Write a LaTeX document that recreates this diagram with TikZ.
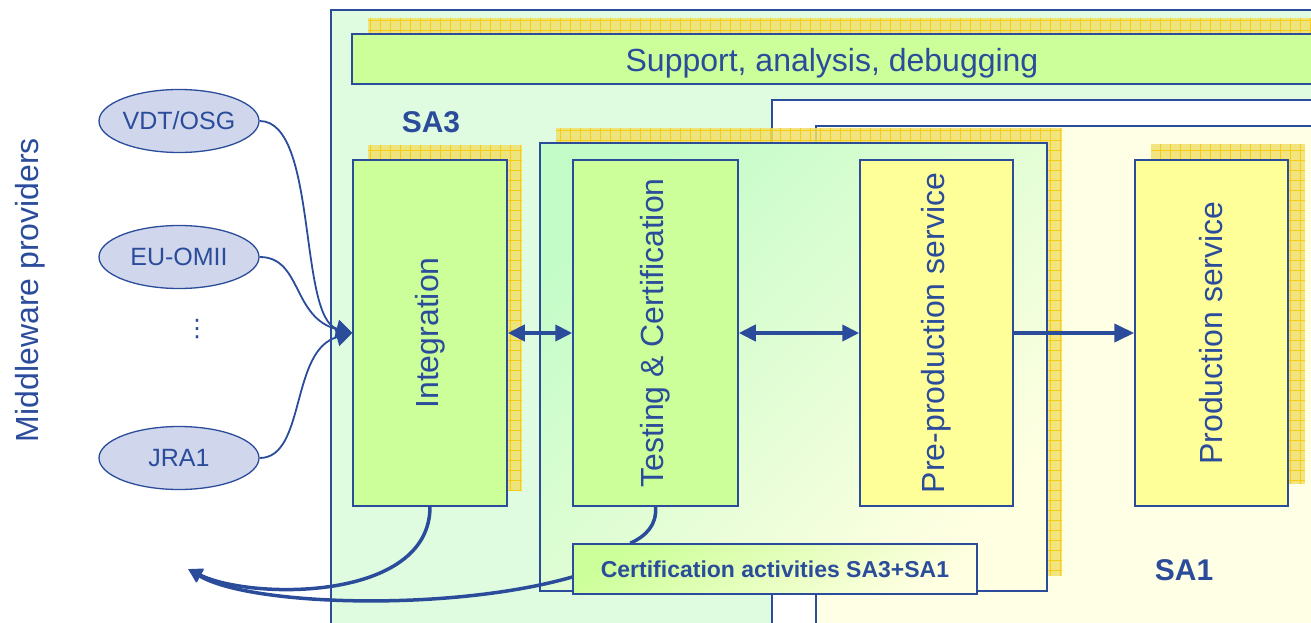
\documentclass[tikz,border=0pt]{standalone}
\usepackage{fontspec}
\setmainfont{Liberation Sans}
\newfontfamily\dejavu{DejaVu Sans}
\usetikzlibrary{shapes.geometric,arrows.meta,calc}
\definecolor{dblue}{RGB}{43,76,155}
\definecolor{sathree}{RGB}{224,252,224}
\definecolor{lgreen}{RGB}{204,255,153}
\definecolor{lyellow}{RGB}{255,255,153}
\definecolor{saone}{RGB}{255,255,229}
\definecolor{shfill}{RGB}{240,224,110}
\definecolor{shline}{RGB}{246,204,20}
\definecolor{ellfill}{RGB}{208,215,236}
\definecolor{contgreen}{RGB}{196,252,200}
\definecolor{contyellow}{RGB}{255,255,226}
\newcommand\gridshadow[2]{%
  \fill[shfill, fill opacity=0.85] #1 rectangle #2;
  \draw[shline, line width=0.6pt, step=10pt] #1 grid #2;}
\begin{document}
\begin{tikzpicture}[x=1pt,y=-1pt,
  border/.style={draw=dblue, line width=1.5pt},
  box/.style={border, inner sep=0pt, minimum height=346pt},
  txt/.style={text=dblue, font=\fontsize{32}{38}\selectfont},
  btxt/.style={text=dblue, font=\bfseries\fontsize{30}{34}\selectfont},
  prov/.style={ellipse, border, line width=1.3pt, fill=ellfill, inner sep=0pt,
    minimum width=160pt, minimum height=63pt, text=dblue,
    font=\fontsize{25}{30}\selectfont},
  feed/.style={dblue, line width=1.8pt, -{Triangle[length=16pt,width=18pt]}},
  flow/.style={dblue, line width=4pt}]
\useasboundingbox (0,0) rectangle (1311,623);
% SA3 background
\draw[border, fill=sathree] (331,10) rectangle (1340,650);
% support bar
\gridshadow{(368,18)}{(1340,50)}
\node[border, fill=lgreen, minimum width=988pt, minimum height=50pt, inner sep=0pt,
  label={[txt, xshift=-14pt, yshift=-4pt]center:Support, analysis, debugging}]
  (bar) at (846,59) {};
% SA1 background
\draw[border, fill=white] (772,100) rectangle (1340,650);
\draw[border, fill=saone] (816,126) rectangle (1340,650);
% container of testing
\gridshadow{(556,128)}{(1062,576)}
\node[border, inner sep=0pt, minimum width=507pt, minimum height=448pt,
  top color=contgreen, bottom color=contyellow, shading angle=45]
  (cont) at (793.5,367) {};
% shadows
\gridshadow{(368,145)}{(522,491)}
\gridshadow{(1151,144)}{(1305,484)}
% boxes
\node[box, fill=lgreen, minimum width=154pt,
  label={[txt,rotate=90]center:Integration}] (integ) at (430,333) {};
\node[box, fill=lgreen, minimum width=165pt,
  label={[txt,rotate=90]center:Testing \& Certification}] (test) at (655.5,333) {};
\node[box, fill=lyellow, minimum width=153pt,
  label={[txt,rotate=90]center:Pre-production service}] (pre) at (936.5,333) {};
\node[box, fill=lyellow, minimum width=153pt,
  label={[txt,rotate=90]center:Production service}] (prod) at (1211.5,333) {};
% labels
\node[btxt] (sa3) at (431,122) {SA3};
\node[btxt] (sa1) at (1184,570) {SA1};
\node[txt, rotate=90] (mw) at (30,290) {Middleware providers};
% providers
\node[prov] (vdt) at (179,121) {VDT/OSG};
\node[prov] (eu) at (179,257) {EU-OMII};
\node[prov] (jra) at (179,458) {JRA1};
\node[text=dblue, font=\dejavu\fontsize{24}{28}\selectfont] (dots) at (197,329) {⋮};
\draw[feed] (vdt.east) .. controls (318,121) and (298,318) .. (integ.west);
\draw[feed] (eu.east) .. controls (302,257) and (292,318) .. (integ.west);
\draw[feed] (jra.east) .. controls (306,458) and (290,350) .. (integ.west);
% horizontal arrows
\draw[flow, {Triangle[length=17pt,width=16pt]}-{Triangle[length=17pt,width=16pt]}] (integ.east) -- (test.west);
\draw[flow, {Triangle[length=17pt,width=16pt]}-{Triangle[length=17pt,width=16pt]}] (test.east) -- (pre.west);
\draw[flow, -{Triangle[length=20pt,width=18pt]}] (pre.east) -- (prod.west);
% certification box
\node[border, inner sep=0pt, minimum width=404pt, minimum height=50pt,
  top color=lgreen, bottom color=contyellow, shading angle=30,
  text=dblue, font=\bfseries\fontsize{23}{27}\selectfont]
  (cert) at (775,569) {Certification activities SA3+SA1};
\coordinate (out) at (188,569);
\draw[flow, line width=3.5pt] (test.south) .. controls (657,525) and (646,536) .. ($(cert.north west)+(58,0)$);
\draw[flow, line width=3.5pt, -{Triangle[length=14pt,width=14pt]}] (integ.south) .. controls (430,602) and (250,600) .. (out);
\draw[flow, line width=3.5pt, -{Triangle[length=14pt,width=14pt]}] ($(cert.west)+(0,8)$) .. controls (450,612) and (250,606) .. (out);
\end{tikzpicture}
\end{document}
